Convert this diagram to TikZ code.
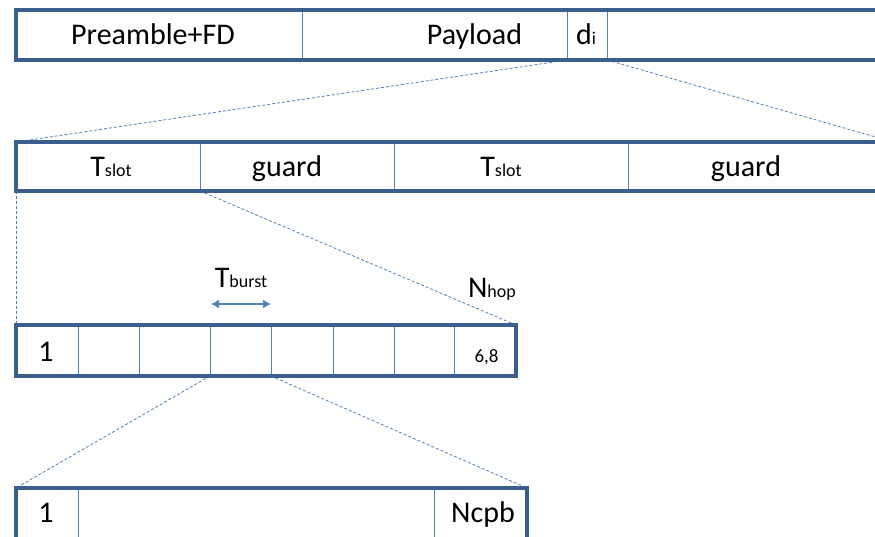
\documentclass[tikz,border=0pt]{standalone}
\usepackage{fontspec}
\setmainfont{Carlito}
\usetikzlibrary{arrows.meta}
\definecolor{frameblue}{HTML}{3A5F8C}
\definecolor{lineblue}{HTML}{4F81BD}
\newcommand\subtxt[1]{{\fontsize{18}{18}\selectfont #1}}
\tikzset{
  cell/.style={draw=lineblue, line width=0.9pt, inner sep=0pt, outer sep=0pt, anchor=north west},
  frame/.style={draw=frameblue, line width=3.2pt},
  zoomline/.style={draw=lineblue, line width=0.8pt, dash pattern=on 3pt off 2pt},
  big/.style={font=\fontsize{30}{31}\selectfont, inner sep=0pt, anchor=base},
  small/.style={font=\fontsize{19}{19}\selectfont, inner sep=0pt, anchor=base},
  span/.style={draw=lineblue, line width=1.8pt, {Latex[length=8pt,width=9pt]}-{Latex[length=8pt,width=9pt]}}
}
\begin{document}
\begin{tikzpicture}[x=1pt,y=-1pt]
\useasboundingbox (0,0) rectangle (875,536);
\fill[white] (0,0) rectangle (875,536);
\begin{scope}
\clip (0,0) rectangle (875,536);

% frame level: preamble, payload, one hop slot d_i
\node[cell, minimum width=286pt, minimum height=50pt] (pre)  at (16,10)  {};
\node[cell, minimum width=265pt, minimum height=50pt] (pay)  at (302,10) {};
\node[cell, minimum width=40pt,  minimum height=50pt] (di)   at (567,10) {};
\node[cell, minimum width=286pt, minimum height=50pt] (rest) at (607,10) {};

% slot level
\node[cell, minimum width=184pt, minimum height=49pt] (ts1) at (16,142)  {};
\node[cell, minimum width=194pt, minimum height=49pt] (g1)  at (200,142) {};
\node[cell, minimum width=234pt, minimum height=49pt] (ts2) at (394,142) {};
\node[cell, minimum width=265pt, minimum height=49pt] (g2)  at (628,142) {};

% hop level
\node[cell, minimum width=62pt, minimum height=51pt] (s1) at (16,325)  {};
\node[cell, minimum width=61pt, minimum height=51pt] (s2) at (78,325)  {};
\node[cell, minimum width=71pt, minimum height=51pt] (s3) at (139,325) {};
\node[cell, minimum width=61pt, minimum height=51pt] (s4) at (210,325) {};
\node[cell, minimum width=62pt, minimum height=51pt] (s5) at (271,325) {};
\node[cell, minimum width=61pt, minimum height=51pt] (s6) at (333,325) {};
\node[cell, minimum width=60pt, minimum height=51pt] (s7) at (394,325) {};
\node[cell, minimum width=62pt, minimum height=51pt] (s8) at (454,325) {};

% chip level
\node[cell, minimum width=62pt,  minimum height=70pt] (c1) at (16,488)  {};
\node[cell, minimum width=356pt, minimum height=70pt] (c2) at (78,488)  {};
\node[cell, minimum width=93pt,  minimum height=70pt] (c3) at (434,488) {};

% zoom-in guides
\draw[zoomline] (pay.south east) -- (ts1.north west);
\draw[zoomline] (di.south east)  -- (g2.north east);
\draw[zoomline] (ts1.south west) -- (s1.north west);
\draw[zoomline] (ts1.south east) -- (s8.north east);
\draw[zoomline] (s4.south west)  -- (c1.north west);
\draw[zoomline] (s4.south east)  -- (c3.north east);

% outer frames
\draw[frame] (pre.north west) rectangle (rest.south east);
\draw[frame] (ts1.north west) rectangle (g2.south east);
\draw[frame] (s1.north west)  rectangle (s8.south east);
\draw[frame] (c1.north west)  rectangle (c3.south east);

% labels
\node[big] (tpre) at (153,44) {Preamble+FD};
\node[big] (tpay) at (474.5,44) {Payload};
\node[big] (tdi)  at (586,44) {d\subtxt{i}};
\node[big] (tts1) at (111,176) {T\subtxt{slot}};
\node[big] (tg1)  at (287,176) {guard};
\node[big] (tts2) at (501,176) {T\subtxt{slot}};
\node[big] (tg2)  at (746,176) {guard};
\node[big] (tbu)  at (241,287) {T\subtxt{burst}};
\node[big] (thop) at (492,297) {N\subtxt{hop}};
\node[big] (tone) at (46,361) {1};
\node[small] (tsix) at (486.5,362) {6,8};
\node[big] (tc1)  at (46,522) {1};
\node[big] (tcpb) at (483,522) {Ncpb};

% burst duration
\coordinate (bl) at (211,304);
\coordinate (br) at (271,304);
\draw[span] (bl) -- (br);
\end{scope}
\end{tikzpicture}
\end{document}
